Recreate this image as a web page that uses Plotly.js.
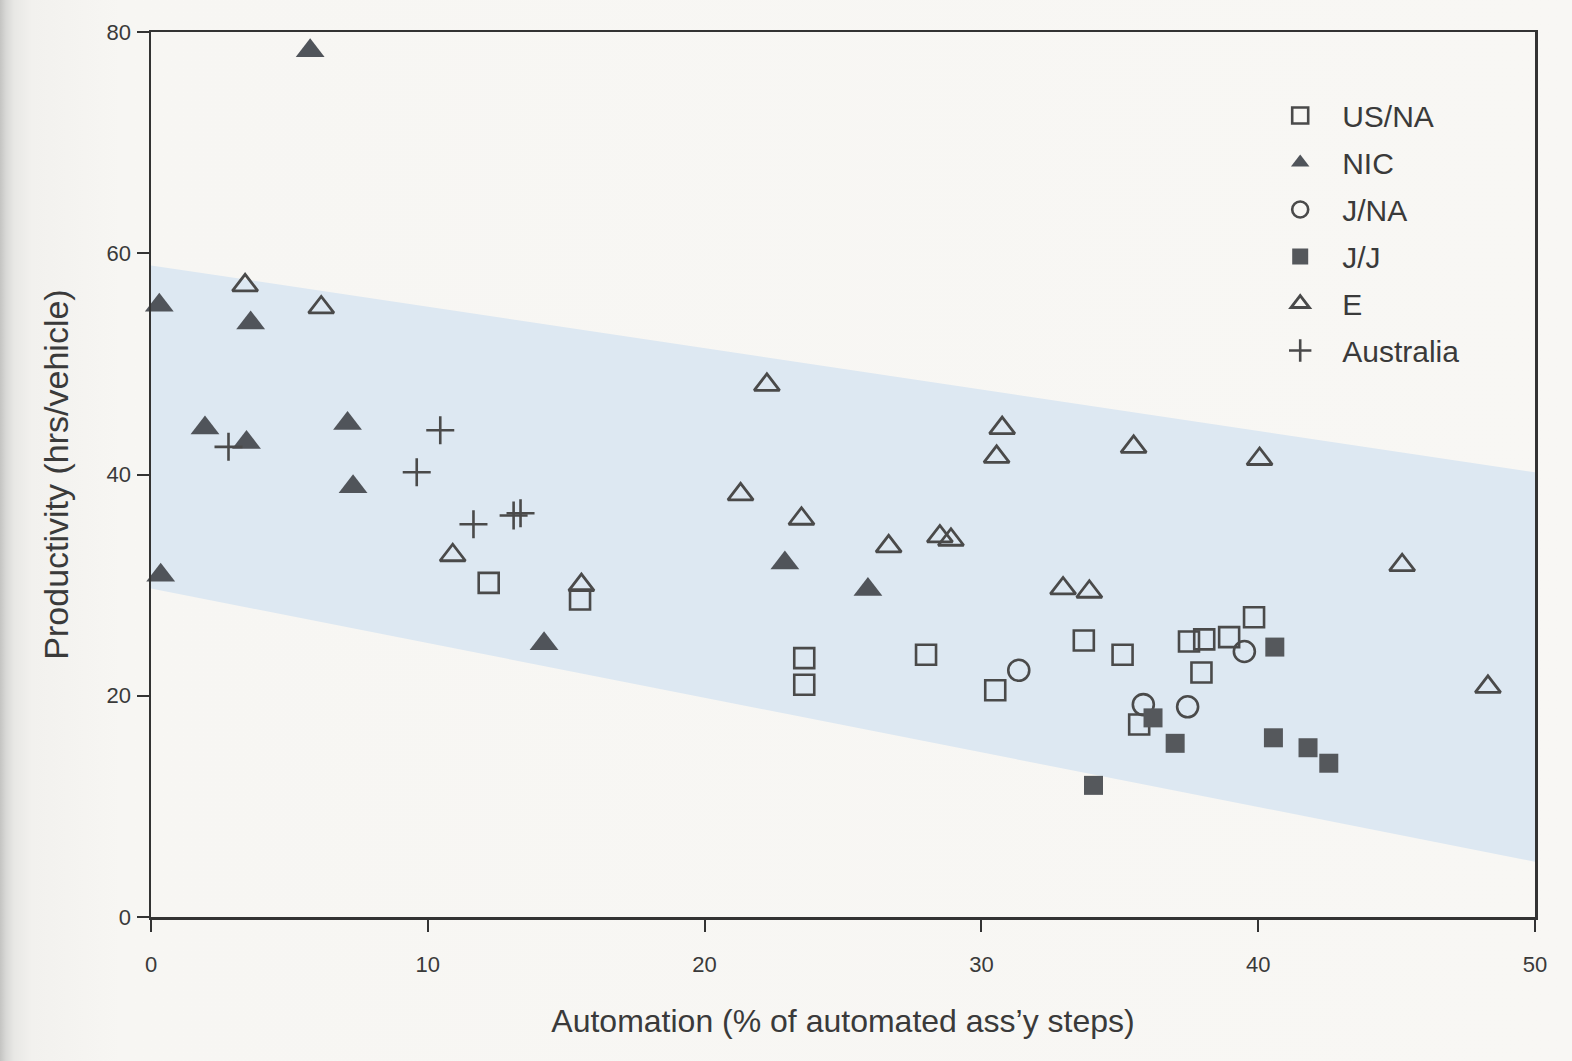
<!DOCTYPE html>
<html><head><meta charset="utf-8">
<script src="https://cdn.plot.ly/plotly-3.0.1.min.js"></script>
<style>
html,body{margin:0;padding:0;width:1572px;height:1061px;overflow:hidden;
background:linear-gradient(to right,#c4c4c2 0px,#d8d8d6 6px,#e8e8e5 14px,#f2f1ee 32px,#f7f6f3 120px,#f8f7f4 100%);}
#chart{width:1572px;height:1061px;}
</style></head><body><div id="chart"></div>
<script>
// Shaded band (productivity range), read at x = 0 and x = 50
const bandX = [0, 50];
const bandUpper = [58.9, 40.2];
const bandLower = [29.7, 5.0];

// US/NA (open squares)
const usnaX = [12.2, 15.5, 23.6, 23.6, 28.0, 30.5, 33.7, 35.1, 35.7, 37.5, 38.05, 38.95, 39.85, 37.95];
const usnaY = [30.2, 28.7, 23.4, 21.0, 23.7, 20.5, 25.0, 23.7, 17.4, 24.9, 25.1, 25.3, 27.1, 22.1];

// NIC (filled triangles)
const nicX = [5.75, 0.3, 3.6, 1.95, 3.45, 7.1, 7.3, 0.35, 14.2, 22.9, 25.9];
const nicY = [78.3, 55.3, 53.7, 44.2, 42.9, 44.6, 38.9, 30.9, 24.7, 32.0, 29.6];

// J/NA (open circles)
const jnaX = [31.35, 35.85, 37.45, 39.5];
const jnaY = [22.3, 19.2, 19.0, 24.0];

// J/J (filled squares)
const jjX = [36.2, 37.0, 34.05, 40.6, 40.55, 41.8, 42.55];
const jjY = [18.0, 15.7, 11.9, 24.4, 16.2, 15.3, 13.9];

// E (open triangles)
const eX = [3.4, 6.15, 10.9, 15.55, 22.25, 30.75, 30.55, 21.3, 23.5, 26.65, 28.5, 28.9, 32.95, 33.9, 35.5, 40.05, 45.2, 48.3];
const eY = [57.1, 55.1, 32.7, 30.0, 48.1, 44.2, 41.6, 38.2, 36.0, 33.5, 34.4, 34.1, 29.7, 29.4, 42.5, 41.4, 31.8, 20.8];

// Australia (plus)
const ausX = [2.8, 10.45, 9.6, 11.65, 13.1, 13.35];
const ausY = [42.5, 44.0, 40.2, 35.5, 36.3, 36.5];

const ink = '#4a4a4a';
const txt = '#3a3a3a';
const fontFam = '"Liberation Sans", Arial, Helvetica, sans-serif';

const traces = [
  {
    x: bandX.concat(bandX.slice().reverse()),
    y: bandUpper.concat(bandLower.slice().reverse()),
    mode: 'lines', fill: 'toself', fillcolor: '#dde8f2',
    line: {width: 0, color: 'rgba(0,0,0,0)'}, showlegend: false, hoverinfo: 'skip'
  },
  {name: 'US/NA', x: usnaX, y: usnaY, mode: 'markers', legendgroup: 'a',
   marker: {symbol: 'square-open', size: 20, color: ink, line: {width: 2.6, color: ink}}},
  {name: 'NIC', x: nicX, y: nicY, mode: 'markers', legendgroup: 'b',
   marker: {symbol: 'triangle-up', size: 25, color: '#50545a', line: {width: 0}}},
  {name: 'J/NA', x: jnaX, y: jnaY, mode: 'markers', legendgroup: 'c',
   marker: {symbol: 'circle-open', size: 21, color: ink, line: {width: 2.6, color: ink}}},
  {name: 'J/J', x: jjX, y: jjY, mode: 'markers', legendgroup: 'd',
   marker: {symbol: 'square', size: 19, color: '#55585c', line: {width: 0}}},
  {name: 'E', x: eX, y: eY, mode: 'markers', legendgroup: 'e',
   marker: {symbol: 'triangle-up-open', size: 22, color: ink, line: {width: 2.8, color: ink}}},
  {name: 'Australia', x: ausX, y: ausY, mode: 'markers', legendgroup: 'f',
   marker: {symbol: 'cross-thin-open', size: 20, color: ink, line: {width: 2.6, color: ink}}}
];
traces.forEach(t => { t.cliponaxis = false; });

const layout = {
  width: 1572, height: 1061,
  paper_bgcolor: 'rgba(0,0,0,0)', plot_bgcolor: 'rgba(0,0,0,0)',
  margin: {l: 151, r: 37, t: 32, b: 144},
  font: {family: fontFam, color: txt},
  showlegend: true,
  legend: {
    x: 0.8, y: 0.935, xanchor: 'left', yanchor: 'top',
    bgcolor: 'rgba(0,0,0,0)', borderwidth: 0,
    font: {size: 30, color: txt, family: fontFam},
    itemwidth: 74, tracegroupgap: 5
  },
  xaxis: {
    range: [0, 50], tickvals: [0, 10, 20, 30, 40, 50],
    showgrid: false, zeroline: false,
    showline: true, linecolor: '#333', linewidth: 2.5, mirror: true,
    ticks: 'outside', ticklen: 12, tickwidth: 2, tickcolor: '#333',
    ticklabelstandoff: 14,
    tickfont: {size: 22, color: txt, family: fontFam},
    title: {text: "Automation (% of automated ass\u2019y steps)", font: {size: 32, color: txt, family: fontFam}, standoff: 34}
  },
  yaxis: {
    range: [0, 80], tickvals: [0, 20, 40, 60, 80],
    showgrid: false, zeroline: false,
    showline: true, linecolor: '#333', linewidth: 2.5, mirror: true,
    ticks: 'outside', ticklen: 12, tickwidth: 2, tickcolor: '#333',
    ticklabelstandoff: 1,
    tickfont: {size: 22, color: txt, family: fontFam},
    title: {text: 'Productivity (hrs/vehicle)', font: {size: 34, color: txt, family: fontFam}, standoff: 28}
  }
};

Plotly.newPlot('chart', traces, layout, {displayModeBar: false, staticPlot: true});
</script></body></html>
